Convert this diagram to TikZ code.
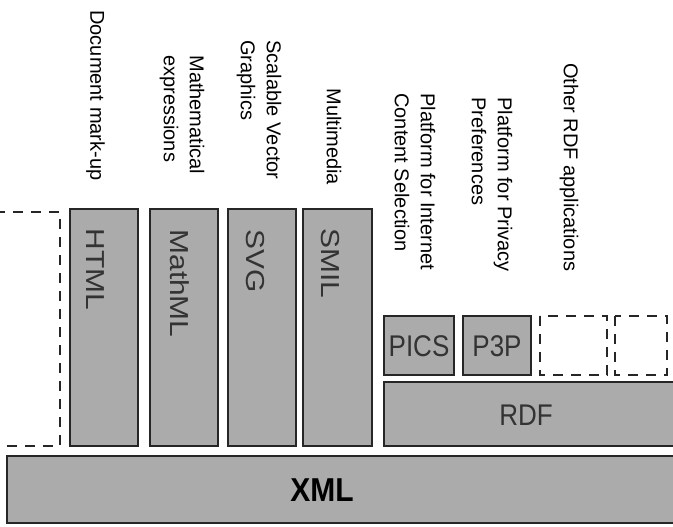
\documentclass[tikz,border=0pt]{standalone}
\usepackage{fontspec}
\setmainfont{Liberation Sans}

\begin{document}
\begin{tikzpicture}[
  x=0.5pt, y=-0.5pt,
  layer/.style={draw=black!85, line width=1pt, fill=black!33},
  spare/.style={draw=black!85, line width=1pt, dash pattern=on 5pt off 4pt},
  lbl/.style={rotate=-90, anchor=west, inner sep=0pt, align=left, font=\fontsize{10}{13}\selectfont},
  tag/.style={yscale=1.15, inner sep=0pt, text=black!80, font=\fontsize{13}{15}\selectfont},
  vtag/.style={tag, rotate=-90, anchor=west}
]
  % frame
  \useasboundingbox (0,0) rectangle (673,526);
  \clip (0,0) rectangle (673,526);
  \fill[white] (0,0) rectangle (673,526);

  % boxes
  \draw[spare] (-5,212) -- (60,212) -- (60,446) -- (-5,446);
  \draw[layer] (70,209)  rectangle (138,446);
  \draw[layer] (150,209) rectangle (218,446);
  \draw[layer] (228,209) rectangle (296,446);
  \draw[layer] (303,209) rectangle (372,446);
  \draw[layer] (384,316) rectangle (454,375);
  \draw[layer] (463,316) rectangle (531,375);
  \draw[spare] (540,316) rectangle (607,375);
  \draw[spare] (615,316) rectangle (667,375);
  \draw[layer] (384,382) rectangle (690,446);
  \draw[layer] (7,456)   rectangle (690,523);

  % box labels
  \node[vtag] (html)  at (95.5,228) {HTML};
  \node[vtag] (mathml) at (180,229) {MathML};
  \node[vtag] (svg)   at (255.5,229) {SVG};
  \node[vtag] (smil)  at (330,228) {SMIL};
  \node[tag]  (pics)  at (419,346) {PICS};
  \node[tag]  (p3p)   at (497,346) {P3P};
  \node[tag]  (rdf)   at (526,415) {RDF};
  \node[tag, yscale=0.96, text=black, font=\fontsize{15}{17}\selectfont\bfseries] (xml) at (322,490) {XML};

  % captions
  \node[lbl] (doc)   at (95.5,10) {Document mark-up};
  \node[lbl] (math)  at (182,55)  {Mathematical\\expressions};
  \node[lbl] (graph) at (259,40)  {Scalable Vector\\Graphics};
  \node[lbl] (media) at (334,88)  {Multimedia};
  \node[lbl] (sel)   at (415,93)  {Platform for Internet\\Content Selection};
  \node[lbl] (priv)  at (492,97)  {Platform for Privacy\\Preferences};
  \node[lbl] (other) at (569,63)  {Other RDF applications};
\end{tikzpicture}
\end{document}
